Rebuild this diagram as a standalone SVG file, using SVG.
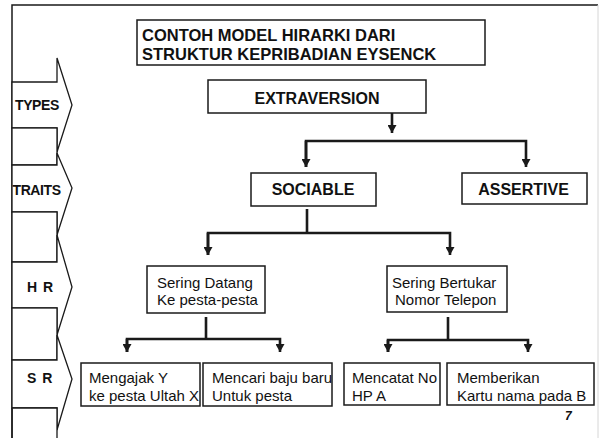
<svg xmlns="http://www.w3.org/2000/svg" width="600" height="438" viewBox="0 0 600 438">
  <style>
    .box { fill: #fff; stroke: #1a1a1a; stroke-width: 1.5; }
    .lvl { fill: #fff; stroke: #1a1a1a; stroke-width: 1.3; stroke-linejoin: miter; }
    .frame { stroke: #1a1a1a; stroke-width: 1.5; fill: none; }
    .wire { stroke: #1a1a1a; stroke-width: 2.6; fill: none; }
    .hd { font-family: "Liberation Sans", Arial, sans-serif; font-weight: bold; font-size: 16px; fill: #111; }
    .tl { font-family: "Liberation Sans", Arial, sans-serif; font-weight: bold; font-size: 16.5px; fill: #111; }
    .lb { font-family: "Liberation Sans", Arial, sans-serif; font-weight: bold; font-size: 14px; fill: #111; letter-spacing: -0.4px; }
    .tx { font-family: "Liberation Sans", Arial, sans-serif; font-size: 15px; fill: #111; }
  </style>
  <defs>
    <marker id="arrow" markerUnits="userSpaceOnUse" markerWidth="9" markerHeight="9" refX="8" refY="4.5" orient="auto">
      <path d="M0,0 L8,4.5 L0,9 z" fill="#1a1a1a"/>
    </marker>
  </defs>

  <rect width="600" height="438" fill="#fff"/>

  <!-- page frame -->
  <g id="frame">
    <path class="frame" d="M12,438 V5 H598"/>
    <line x1="598" y1="5" x2="598" y2="438" stroke="#d6d6d6" stroke-width="1"/>
  </g>

  <!-- level column on the left -->
  <g id="level-types">
    <polygon class="lvl" points="12,82 57,82 57,58 72,105 57,152 57,128 12,128"/>
    <text class="lb" x="15" y="110">TYPES</text>
  </g>
  <g id="level-gap-1"><rect class="lvl" x="12" y="128" width="45" height="37"/></g>
  <g id="level-traits">
    <polygon class="lvl" points="12,165 57,165 57,153 72,188 57,235 57,212 12,212"/>
    <text class="lb" x="12.5" y="195">TRAITS</text>
  </g>
  <g id="level-gap-2"><rect class="lvl" x="12" y="212" width="45" height="50"/></g>
  <g id="level-hr">
    <polygon class="lvl" points="12,262 57,262 57,235 72,287 57,335 57,308 12,308"/>
    <text class="lb" x="27" y="292" style="letter-spacing:1px">H R</text>
  </g>
  <g id="level-gap-3"><rect class="lvl" x="12" y="308" width="45" height="52"/></g>
  <g id="level-sr">
    <polygon class="lvl" points="12,360 57,360 57,335 72,379 57,430 57,408 12,408"/>
    <text class="lb" x="27" y="383" style="letter-spacing:1px">S R</text>
  </g>
  <g id="level-gap-4"><path class="lvl" d="M12,408 H57 V440 M12,440 V408"/></g>

  <!-- title -->
  <g id="title">
    <rect class="box" x="137" y="20" width="348" height="45"/>
    <text class="tl" x="142" y="41">CONTOH MODEL HIRARKI DARI</text>
    <text class="tl" x="142" y="60">STRUKTUR KEPRIBADIAN EYSENCK</text>
  </g>

  <!-- connectors -->
  <g id="connectors">
    <line class="wire" x1="392" y1="113" x2="392" y2="133" marker-end="url(#arrow)"/>
    <path class="wire" d="M306,167 V141 H526 V167" marker-end="url(#arrow)"/>
    <line class="wire" x1="306" y1="141" x2="306" y2="167" marker-end="url(#arrow)"/>

    <line class="wire" x1="307" y1="209" x2="307" y2="233"/>
    <path class="wire" d="M208,255 V233 H450 V255" marker-end="url(#arrow)"/>
    <line class="wire" x1="208" y1="233" x2="208" y2="255" marker-end="url(#arrow)"/>

    <line class="wire" x1="206" y1="317" x2="206" y2="339"/>
    <path class="wire" d="M127,352 V339 H280 V352" marker-end="url(#arrow)"/>
    <line class="wire" x1="127" y1="339" x2="127" y2="352" marker-end="url(#arrow)"/>

    <line class="wire" x1="448" y1="317" x2="448" y2="340"/>
    <path class="wire" d="M388,352 V340 H528 V352" marker-end="url(#arrow)"/>
    <line class="wire" x1="388" y1="340" x2="388" y2="352" marker-end="url(#arrow)"/>
  </g>

  <!-- types / traits -->
  <g id="extraversion">
    <rect class="box" x="208" y="80" width="218" height="33"/>
    <text class="hd" x="317" y="104" text-anchor="middle">EXTRAVERSION</text>
  </g>
  <g id="sociable">
    <rect class="box" x="251" y="173" width="125" height="33"/>
    <text class="hd" x="313" y="195" text-anchor="middle">SOCIABLE</text>
  </g>
  <g id="assertive">
    <rect class="box" x="462" y="173" width="125" height="31"/>
    <text class="hd" x="523.5" y="195" text-anchor="middle">ASSERTIVE</text>
  </g>

  <!-- habitual responses -->
  <g id="hr-datang">
    <rect class="box" x="147" y="266" width="118" height="47"/>
    <text class="tx" x="157" y="288">Sering Datang</text>
    <text class="tx" x="157" y="305">Ke pesta-pesta</text>
  </g>
  <g id="hr-bertukar">
    <rect class="box" x="387" y="266" width="120" height="46"/>
    <text class="tx" x="392" y="288">Sering Bertukar</text>
    <text class="tx" x="395" y="305">Nomor Telepon</text>
  </g>

  <!-- specific responses -->
  <g id="sr-mengajak">
    <rect class="box" x="81" y="363" width="119" height="43"/>
    <text class="tx" x="89" y="383">Mengajak Y</text>
    <text class="tx" x="89" y="401">ke pesta Ultah X</text>
  </g>
  <g id="sr-mencari">
    <rect class="box" x="203" y="363" width="129" height="43"/>
    <text class="tx" x="212" y="383">Mencari baju baru</text>
    <text class="tx" x="212" y="401">Untuk pesta</text>
  </g>
  <g id="sr-mencatat">
    <rect class="box" x="344" y="363" width="96" height="42"/>
    <text class="tx" x="352" y="383">Mencatat No</text>
    <text class="tx" x="352" y="401">HP A</text>
  </g>
  <g id="sr-memberikan">
    <rect class="box" x="447" y="363" width="147" height="42"/>
    <text class="tx" x="457" y="383">Memberikan</text>
    <text class="tx" x="457" y="401">Kartu nama pada B</text>
  </g>

  <text x="565" y="420" font-family="'Liberation Sans', Arial, sans-serif" font-weight="bold" font-style="italic" font-size="12" fill="#111">7</text>
</svg>
